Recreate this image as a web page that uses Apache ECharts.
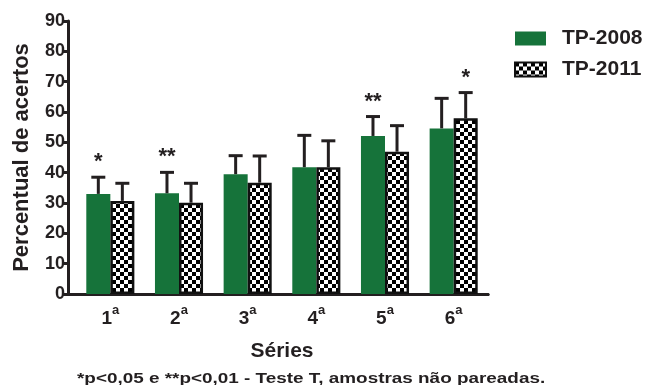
<!DOCTYPE html>
<html>
<head>
<meta charset="utf-8">
<script src="https://cdn.jsdelivr.net/npm/echarts@6/dist/echarts.min.js"></script>
<style>
  html, body { margin: 0; padding: 0; background: #fff; }
  #chart { width: 649px; height: 385px; }
</style>
</head>
<body>
<div id="chart"></div>
<script>
// School grades (1st to 6th) and mean hit percentages per test edition
const series = ['1', '2', '3', '4', '5', '6'];
const tp2008Mean = [33.0, 33.2, 39.5, 41.8, 52.1, 54.6];
const tp2008Sd   = [5.5, 6.9, 6.1, 10.5, 6.4, 9.9];
const tp2011Mean = [30.7, 30.1, 36.7, 41.8, 46.9, 57.9];
const tp2011Sd   = [5.8, 6.4, 8.8, 8.7, 8.6, 8.5];
// Significance marks (t-test, unpaired samples)
const tp2008Sig = ['*', '**', '', '', '**', ''];
const tp2011Sig = ['', '', '', '', '', '*'];
const yTicks = [0, 10, 20, 30, 40, 50, 60, 70, 80, 90];
const footnote = '*p<0,05 e **p<0,01 - Teste T, amostras não pareadas.';

const INK = '#231f20';
const GREEN = '#16733a';
const FONT = '"Liberation Sans", Arial, sans-serif';
const CAT_GAP = 0.30; // fraction of a category left empty

// black / white checkerboard fill
function checker() {
  const c = document.createElement('canvas');
  c.width = 8; c.height = 8;
  const g = c.getContext('2d');
  g.fillStyle = '#fff'; g.fillRect(0, 0, 8, 8);
  g.fillStyle = '#000';
  g.fillRect(0, 0, 4, 4);
  g.fillRect(4, 4, 4, 4);
  return c;
}
const checkFill = { image: checker(), repeat: 'repeat' };

// upward error bar with cap, plus the significance mark above it
function errorBars(side, sig) {
  return function (params, api) {
    const i = api.value(0), m = api.value(1), sd = api.value(2);
    const band = api.size([1, 0])[0];
    const barW = band * (1 - CAT_GAP) / 2;
    const base = api.coord([i, m]);
    const top = api.coord([i, m + sd]);
    const x = base[0] + side * barW / 2;
    const capHalf = 7;
    const children = [
      { type: 'line', shape: { x1: x, y1: base[1], x2: x, y2: top[1] },
        style: { stroke: INK, lineWidth: 3 } },
      { type: 'line', shape: { x1: x - capHalf, y1: top[1], x2: x + capHalf, y2: top[1] },
        style: { stroke: INK, lineWidth: 3 } }
    ];
    const mark = sig[i];
    if (mark) {
      children.push({ type: 'text', x: x, y: top[1] - 15,
        style: { text: mark, fill: INK, font: 'bold 22px ' + FONT, align: 'center', verticalAlign: 'middle' } });
    }
    return { type: 'group', children: children };
  };
}

const chart = echarts.init(document.getElementById('chart'), null, { renderer: 'canvas' });

chart.setOption({
  animation: false,
  backgroundColor: '#fff',
  textStyle: { fontFamily: FONT },
  graphic: [{
    type: 'text',
    x: 77, y: 371,
    scaleX: 1.26,
    style: { text: footnote, font: 'bold 15px ' + FONT, fill: INK, verticalAlign: 'top' }
  }],
  legend: {
    orient: 'vertical',
    left: 509, top: 23,
    icon: 'rect',
    itemWidth: 31, itemHeight: 14,
    itemGap: 10,
    data: ['TP-2008', 'TP-2011'],
    textStyle: { fontFamily: FONT, fontWeight: 'bold', fontSize: 21, color: INK, padding: [0, 0, 0, 11] }
  },
  grid: [
    { left: 76, right: 161, top: 21, bottom: 91 },
    { left: 66, right: 161, top: 21, bottom: 91 }
  ],
  xAxis: [
    {
      type: 'category', gridIndex: 0,
      data: series,
      name: 'Séries', nameLocation: 'middle', nameGap: 47,
      nameTextStyle: { fontFamily: FONT, fontWeight: 'bold', fontSize: 21, color: INK },
      axisLine: { lineStyle: { color: INK, width: 3 } },
      axisTick: { alignWithLabel: true, length: 8, lineStyle: { color: INK, width: 3 } },
      axisLabel: {
        margin: 10,
        formatter: v => '{n|' + v + '}{s|a}',
        rich: {
          n: { fontFamily: FONT, fontWeight: 'bold', fontSize: 19, color: INK, padding: [4, 0, 0, 0] },
          s: { fontFamily: FONT, fontWeight: 'bold', fontSize: 13, color: INK, verticalAlign: 'top', padding: [0, 0, 12, 0] }
        }
      }
    },
    {
      type: 'category', gridIndex: 1, data: [''],
      axisLine: { lineStyle: { color: INK, width: 3 } },
      axisTick: { show: false }, axisLabel: { show: false }
    }
  ],
  yAxis: [
    {
      type: 'value', gridIndex: 0,
      min: 0, max: 90, interval: 10, offset: 8,
      name: 'Percentual de acertos', nameLocation: 'middle', nameGap: 35,
      nameTextStyle: { fontFamily: FONT, fontWeight: 'bold', fontSize: 22, color: INK },
      axisLine: { show: true, lineStyle: { color: INK, width: 3 } },
      axisTick: { show: true, length: 6, lineStyle: { color: INK, width: 3 } },
      axisLabel: {
        margin: 3,
        formatter: v => yTicks.includes(v) ? String(v) : '',
        fontFamily: FONT, fontWeight: 'bold', fontSize: 18, color: INK
      },
      splitLine: { show: false }
    },
    { type: 'value', gridIndex: 1, show: false, min: 0, max: 90 }
  ],
  series: [
    {
      name: 'TP-2008', type: 'bar', xAxisIndex: 0, yAxisIndex: 0,
      data: tp2008Mean,
      barGap: '0%', barCategoryGap: (CAT_GAP * 100) + '%',
      itemStyle: { color: GREEN }
    },
    {
      name: 'TP-2011', type: 'bar', xAxisIndex: 0, yAxisIndex: 0,
      data: tp2011Mean,
      itemStyle: { color: checkFill, borderColor: '#111', borderWidth: 2.5 }
    },
    {
      type: 'custom', xAxisIndex: 0, yAxisIndex: 0, z: 3,
      renderItem: errorBars(-1, tp2008Sig),
      data: tp2008Mean.map((m, i) => [i, m, tp2008Sd[i]])
    },
    {
      type: 'custom', xAxisIndex: 0, yAxisIndex: 0, z: 3,
      renderItem: errorBars(1, tp2011Sig),
      data: tp2011Mean.map((m, i) => [i, m, tp2011Sd[i]])
    }
  ]
});
</script>
</body>
</html>
